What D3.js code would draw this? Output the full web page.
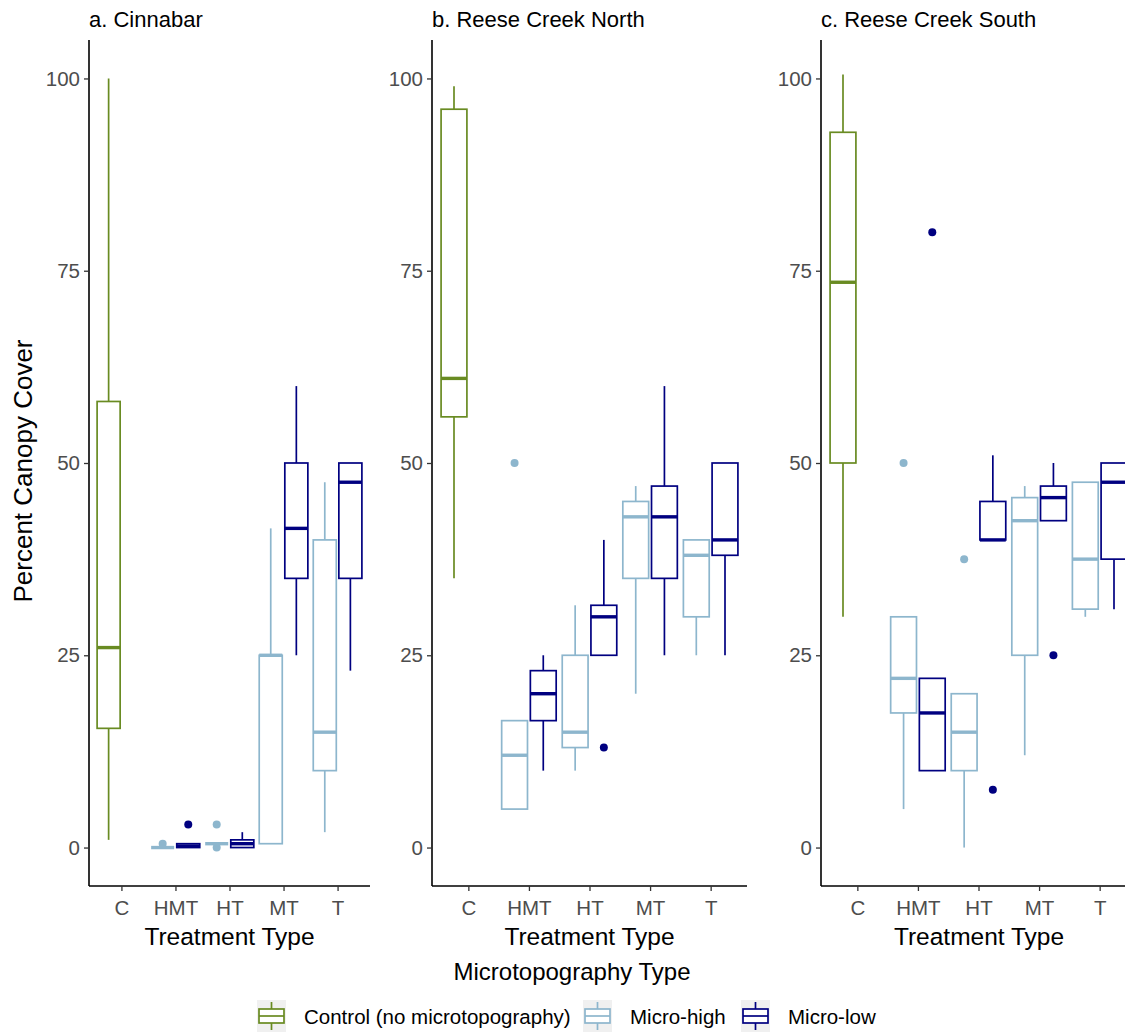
<!DOCTYPE html>
<html>
<head>
<meta charset="utf-8">
<script src="https://cdn.jsdelivr.net/npm/d3@7"></script>
<style>
  body { margin: 0; background: #fff; }
  text { font-family: "Liberation Sans", Arial, sans-serif; }
</style>
</head>
<body>
<svg id="chart" width="1125" height="1032"></svg>
<script>
// categories on x, groups (fill legend), y ticks
const categories = ["C", "HMT", "HT", "MT", "T"];
const groups = ["Control (no microtopography)", "Micro-high", "Micro-low"];
const groupColors = ["#698B22", "#8DB6CD", "#000080"];
const yTicks = [0, 25, 50, 75, 100];
const panelTitles = ["a. Cinnabar", "b. Reese Creek North", "c. Reese Creek South"];

// rows: [category, group index, lower whisker, q1, median, q3, upper whisker, outliers]
const cinnabar = [
  ["C", 0, 1, 15.5, 26, 58, 100, []],
  ["HMT", 1, 0, 0, 0, 0, 0, [0.5]],
  ["HMT", 2, 0, 0, 0.2, 0.5, 0.5, [3]],
  ["HT", 1, 0.5, 0.5, 0.5, 0.5, 0.5, [0, 3]],
  ["HT", 2, 0, 0, 0.5, 1, 2, []],
  ["MT", 1, 0.5, 0.5, 25, 25, 41.5, []],
  ["MT", 2, 25, 35, 41.5, 50, 60, []],
  ["T", 1, 2, 10, 15, 40, 47.5, []],
  ["T", 2, 23, 35, 47.5, 50, 50, []]
];
const reeseNorth = [
  ["C", 0, 35, 56, 61, 96, 99, []],
  ["HMT", 1, 5, 5, 12, 16.5, 16.5, [50]],
  ["HMT", 2, 10, 16.5, 20, 23, 25, []],
  ["HT", 1, 10, 13, 15, 25, 31.5, []],
  ["HT", 2, 25, 25, 30, 31.5, 40, [13]],
  ["MT", 1, 20, 35, 43, 45, 47, []],
  ["MT", 2, 25, 35, 43, 47, 60, []],
  ["T", 1, 25, 30, 38, 40, 40, []],
  ["T", 2, 25, 38, 40, 50, 50, []]
];
const reeseSouth = [
  ["C", 0, 30, 50, 73.5, 93, 100.5, []],
  ["HMT", 1, 5, 17.5, 22, 30, 30, [50]],
  ["HMT", 2, 10, 10, 17.5, 22, 22, [80]],
  ["HT", 1, 0, 10, 15, 20, 20, [37.5]],
  ["HT", 2, 40, 40, 40, 45, 51, [7.5]],
  ["MT", 1, 12, 25, 42.5, 45.5, 47, []],
  ["MT", 2, 42.5, 42.5, 45.5, 47, 50, [25]],
  ["T", 1, 30, 31, 37.5, 47.5, 47.5, []],
  ["T", 2, 31, 37.5, 47.5, 50, 50, []]
];
const panelData = [cinnabar, reeseNorth, reeseSouth];

// layout: left edge / right edge of each panel plot area
const panelX = [[89, 370], [432, 747], [821, 1136]];
const plotTop = 40, plotBottom = 886;

const svg = d3.select("#chart");

const y = d3.scaleLinear().domain([-5, 105]).range([plotBottom, plotTop]);

panelData.forEach((rows, p) => {
  const [x0, x1] = panelX[p];
  const g = svg.append("g");

  const x = d3.scalePoint().domain(categories).range([x0, x1]).padding(0.6);
  const step = x.step();
  // two dodge slots inside a category: left (control / micro-high), right (micro-low)
  const slot = d3.scaleBand().domain(["L", "R"])
    .range([-0.45 * step, 0.45 * step]).paddingInner(0.1);
  const slotOf = (gi) => gi === 2 ? "R" : "L";

  // boxes
  const boxes = g.selectAll("g.box").data(rows).join("g").attr("class", "box");
  boxes.each(function(d) {
    const b = d3.select(this);
    const col = groupColors[d[1]];
    const left = x(d[0]) + slot(slotOf(d[1]));
    const w = slot.bandwidth();
    const cx = left + w / 2;
    b.append("line").attr("x1", cx).attr("x2", cx)
      .attr("y1", y(d[6])).attr("y2", y(d[5]))
      .attr("stroke", col).attr("stroke-width", 1.7);
    b.append("line").attr("x1", cx).attr("x2", cx)
      .attr("y1", y(d[3])).attr("y2", y(d[2]))
      .attr("stroke", col).attr("stroke-width", 1.7);
    b.append("rect").attr("x", left).attr("width", w)
      .attr("y", y(d[5])).attr("height", Math.max(0, y(d[3]) - y(d[5])))
      .attr("fill", "#fff").attr("stroke", col).attr("stroke-width", 1.7);
    b.append("line").attr("x1", left).attr("x2", left + w)
      .attr("y1", y(d[4])).attr("y2", y(d[4]))
      .attr("stroke", col).attr("stroke-width", 3.4);
    b.selectAll("circle").data(d[7]).join("circle")
      .attr("cx", cx).attr("cy", (v) => y(v)).attr("r", 4)
      .attr("fill", col);
  });

  // axes
  const ya = g.append("g").attr("transform", `translate(${x0},0)`)
    .call(d3.axisLeft(y).tickValues(yTicks).tickSize(5).tickPadding(4));
  ya.select(".domain").attr("d", `M0,${plotTop}V${plotBottom}`).attr("stroke", "#000").attr("stroke-width", 1.6);
  ya.selectAll(".tick line").attr("stroke", "#333").attr("stroke-width", 1.3);
  ya.selectAll(".tick text").attr("fill", "#4D4D4D").style("font-size", "20.5px")
    .style("font-family", "Liberation Sans, Arial, sans-serif");

  const xa = g.append("g").attr("transform", `translate(0,${plotBottom})`)
    .call(d3.axisBottom(x).tickSize(5).tickPadding(9));
  xa.select(".domain").attr("d", `M${x0},0H${x1}`).attr("stroke", "#000").attr("stroke-width", 1.6);
  xa.selectAll(".tick line").attr("stroke", "#333").attr("stroke-width", 1.3);
  xa.selectAll(".tick text").attr("fill", "#4D4D4D").style("font-size", "20.5px")
    .style("font-family", "Liberation Sans, Arial, sans-serif");

  g.append("text").attr("x", (x0 + Math.min(x1, 1125)) / 2 + (p === 2 ? 6 : 0)).attr("y", 945)
    .attr("text-anchor", "middle").style("font-size", "24.5px").attr("fill", "#000")
    .text("Treatment Type");

  g.append("text").attr("x", x0).attr("y", 27)
    .style("font-size", "22px").attr("fill", "#000")
    .text(panelTitles[p]);
});

svg.append("text")
  .attr("transform", `translate(32,${(plotTop + plotBottom) / 2 + 8}) rotate(-90)`)
  .attr("text-anchor", "middle").style("font-size", "26px")
  .text("Percent Canopy Cover");

svg.append("text").attr("x", 572).attr("y", 980)
  .attr("text-anchor", "middle").style("font-size", "24px")
  .text("Microtopography Type");

// legend
const legendX = [257, 583, 741];
const leg = svg.append("g").selectAll("g").data(groups).join("g")
  .attr("transform", (d, i) => `translate(${legendX[i]},1000)`);
leg.append("rect").attr("width", 29).attr("height", 32).attr("fill", "#F0F0F0");
leg.append("line").attr("x1", 14.5).attr("x2", 14.5).attr("y1", 2).attr("y2", 30)
  .attr("stroke", (d, i) => groupColors[i]).attr("stroke-width", 1.7);
leg.append("rect").attr("x", 2).attr("y", 9).attr("width", 25).attr("height", 14)
  .attr("fill", "#fff").attr("stroke", (d, i) => groupColors[i]).attr("stroke-width", 1.7);
leg.append("line").attr("x1", 2).attr("x2", 27).attr("y1", 16).attr("y2", 16)
  .attr("stroke", (d, i) => groupColors[i]).attr("stroke-width", 1.7);
leg.append("text").attr("x", 47).attr("y", 24).style("font-size", "20.5px")
  .text((d) => d);
</script>
</body>
</html>
